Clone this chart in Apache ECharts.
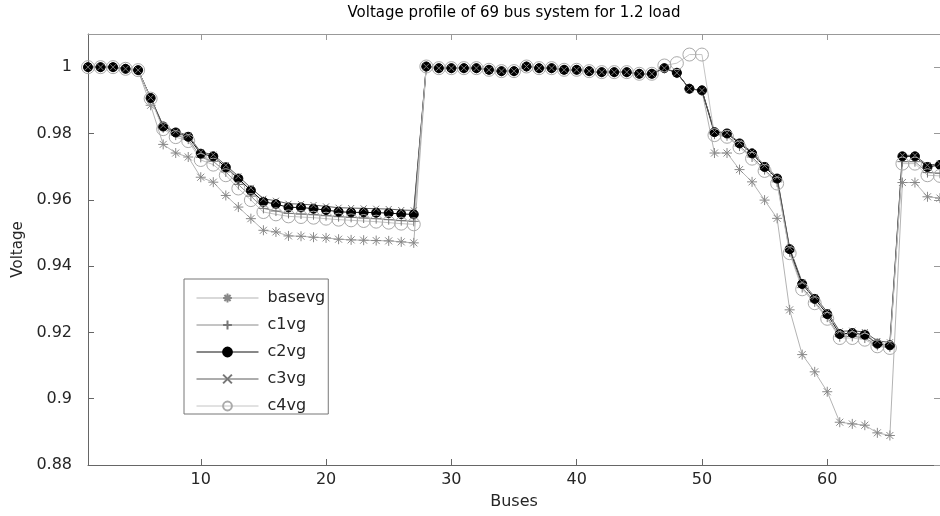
<!DOCTYPE html>
<html>
<head>
<meta charset="utf-8">
<title>Voltage profile</title>
<script src="https://cdn.jsdelivr.net/npm/echarts@6/dist/echarts.min.js"></script>
<style>
	html, body { margin: 0; padding: 0; background: #fff; }
	#chart { width: 940px; height: 516px; }
</style>
</head>
<body>
<div id="chart"></div>
<script>
/* bus numbers */
var buses = [1, 2, 3, 4, 5, 6, 7, 8, 9, 10, 11, 12, 13, 14, 15, 16, 17, 18, 19, 20,
	21, 22, 23, 24, 25, 26, 27, 28, 29, 30, 31, 32, 33, 34, 35, 36, 37, 38, 39, 40,
	41, 42, 43, 44, 45, 46, 47, 48, 49, 50, 51, 52, 53, 54, 55, 56, 57, 58, 59, 60,
	61, 62, 63, 64, 65, 66, 67, 68, 69];
var xTicks = [10, 20, 30, 40, 50, 60];

var basevg = [1.0000, 1.0000, 1.0000, 0.9995, 0.9990, 0.9885, 0.9767, 0.9741, 0.9729, 0.9668,
	0.9653, 0.9613, 0.9578, 0.9543, 0.9508, 0.9503, 0.9491, 0.9490, 0.9487, 0.9485,
	0.9481, 0.9479, 0.9478, 0.9477, 0.9476, 0.9473, 0.9470, 1.0001, 0.9996, 0.9996,
	0.9996, 0.9996, 0.9991, 0.9987, 0.9987, 1.0001, 0.9996, 0.9996, 0.9991, 0.9991,
	0.9987, 0.9984, 0.9984, 0.9984, 0.9979, 0.9979, 0.9996, 0.9982, 0.9934, 0.9929,
	0.9741, 0.9741, 0.9691, 0.9654, 0.9599, 0.9544, 0.9268, 0.9133, 0.9081, 0.9021,
	0.8929, 0.8924, 0.8920, 0.8897, 0.8889, 0.9652, 0.9652, 0.9609, 0.9605];
var c1vg = [1.0000, 1.0000, 1.0000, 0.9995, 0.9991, 0.9906, 0.9817, 0.9795, 0.9783, 0.9728,
	0.9716, 0.9684, 0.9646, 0.9611, 0.9574, 0.9566, 0.9559, 0.9557, 0.9555, 0.9552,
	0.9549, 0.9547, 0.9545, 0.9543, 0.9540, 0.9537, 0.9535, 1.0002, 0.9997, 0.9997,
	0.9997, 0.9997, 0.9992, 0.9988, 0.9988, 1.0002, 0.9997, 0.9997, 0.9992, 0.9992,
	0.9988, 0.9985, 0.9985, 0.9985, 0.9980, 0.9980, 0.9997, 0.9983, 0.9935, 0.9930,
	0.9798, 0.9793, 0.9762, 0.9729, 0.9691, 0.9654, 0.9443, 0.9335, 0.9292, 0.9246,
	0.9187, 0.9188, 0.9183, 0.9161, 0.9156, 0.9715, 0.9715, 0.9682, 0.9680];
var c2vg = [1.0000, 1.0000, 1.0000, 0.9995, 0.9991, 0.9907, 0.9821, 0.9803, 0.9790, 0.9739,
	0.9731, 0.9698, 0.9664, 0.9628, 0.9594, 0.9587, 0.9577, 0.9577, 0.9573, 0.9569,
	0.9564, 0.9562, 0.9562, 0.9561, 0.9560, 0.9557, 0.9556, 1.0002, 0.9997, 0.9997,
	0.9997, 0.9997, 0.9992, 0.9988, 0.9988, 1.0002, 0.9997, 0.9997, 0.9992, 0.9992,
	0.9988, 0.9985, 0.9985, 0.9985, 0.9980, 0.9980, 0.9997, 0.9983, 0.9935, 0.9930,
	0.9804, 0.9800, 0.9770, 0.9740, 0.9699, 0.9664, 0.9451, 0.9346, 0.9301, 0.9255,
	0.9195, 0.9198, 0.9193, 0.9166, 0.9161, 0.9731, 0.9731, 0.9699, 0.9705];
var c3vg = [1.0000, 1.0000, 1.0000, 0.9995, 0.9991, 0.9908, 0.9824, 0.9806, 0.9794, 0.9744,
	0.9736, 0.9704, 0.9671, 0.9636, 0.9603, 0.9597, 0.9588, 0.9587, 0.9584, 0.9580,
	0.9576, 0.9575, 0.9574, 0.9573, 0.9572, 0.9569, 0.9568, 1.0002, 0.9997, 0.9997,
	0.9997, 0.9997, 0.9992, 0.9988, 0.9988, 1.0002, 0.9997, 0.9997, 0.9992, 0.9992,
	0.9988, 0.9985, 0.9985, 0.9985, 0.9980, 0.9980, 0.9997, 0.9983, 0.9935, 0.9930,
	0.9806, 0.9802, 0.9773, 0.9744, 0.9703, 0.9668, 0.9455, 0.9351, 0.9307, 0.9262,
	0.9203, 0.9205, 0.9201, 0.9174, 0.9170, 0.9734, 0.9734, 0.9704, 0.9709];
var c4vg = [1.0000, 1.0000, 1.0000, 0.9995, 0.9991, 0.9905, 0.9813, 0.9789, 0.9777, 0.9720,
	0.9706, 0.9674, 0.9634, 0.9599, 0.9563, 0.9556, 0.9550, 0.9548, 0.9546, 0.9543,
	0.9540, 0.9538, 0.9536, 0.9534, 0.9531, 0.9528, 0.9526, 1.0002, 0.9997, 0.9997,
	0.9997, 0.9997, 0.9992, 0.9988, 0.9988, 1.0002, 0.9997, 0.9997, 0.9992, 0.9992,
	0.9988, 0.9985, 0.9985, 0.9985, 0.9980, 0.9980, 1.0005, 1.0012, 1.0038, 1.0038,
	0.9795, 0.9790, 0.9758, 0.9724, 0.9687, 0.9649, 0.9439, 0.9330, 0.9288, 0.9241,
	0.9183, 0.9183, 0.9178, 0.9158, 0.9153, 0.9709, 0.9709, 0.9674, 0.9672];

var FONT = 'DejaVu Sans';
var STAR = 'path://M5,0L5,10M0,5L10,5M1.5,1.5L8.5,8.5M1.5,8.5L8.5,1.5';
var PLUS = 'path://M5,0L5,10M0,5L10,5';
var CROSS = 'path://M0,0L10,10M0,10L10,0';

function pairs(ys) {
	var out = [];
	for (var i = 0; i < buses.length; i++) {
		out.push([buses[i], ys[i]]);
	}
	return out;
}

function lineSeries(name, ys, lineColor, symbol, size, fill, stroke) {
	return {
		name : name,
		type : 'line',
		data : pairs(ys),
		symbol : symbol,
		symbolSize : size,
		showAllSymbol : true,
		lineStyle : { color : lineColor, width : 1 },
		itemStyle : { color : fill, borderColor : stroke, borderWidth : 1 },
		emphasis : { disabled : true }
	};
}

var chart = echarts.init(document.getElementById('chart'));
chart.setOption({
	animation : false,
	backgroundColor : '#fff',
	textStyle : { fontFamily : FONT },
	grid : { left : 88, top : 34, width : 856, height : 431 },
	legend : {
		orient : 'vertical',
		left : 184,
		top : 279,
		padding : [11, 3, 0, 12],
		itemWidth : 62,
		itemHeight : 11,
		itemGap : 11,
		borderColor : '#777',
		borderWidth : 1,
		backgroundColor : '#fff',
		lineStyle : { width : 1 },
		textStyle : { fontSize : 16, color : '#262626', fontFamily : FONT, padding : [0, 0, 0, 4], lineHeight : 14 },
		data : [ 'basevg', 'c1vg', 'c2vg', 'c3vg', 'c4vg' ]
	},
	xAxis : [ {
		type : 'value',
		min : 1,
		max : 69,
		name : 'Buses',
		nameLocation : 'middle',
		nameGap : 29,
		nameTextStyle : { fontSize : 16, color : '#262626' },
		axisLine : { lineStyle : { color : '#666' } },
		axisTick : { inside : true, length : 6, customValues : xTicks, lineStyle : { color : '#666' } },
		axisLabel : { customValues : xTicks, fontSize : 16, color : '#262626', margin : 7 },
		splitLine : { show : false }
	}, {
		type : 'value',
		position : 'top',
		min : 1,
		max : 69,
		name : 'Voltage profile of 69 bus system for 1.2 load',
		nameLocation : 'middle',
		nameGap : 13,
		nameTextStyle : { fontSize : 15, color : '#000' },
		axisLine : { lineStyle : { color : '#999' } },
		axisTick : { inside : true, length : 6, customValues : xTicks, lineStyle : { color : '#999' } },
		axisLabel : { show : false },
		splitLine : { show : false }
	} ],
	yAxis : [ {
		type : 'value',
		min : 0.88,
		max : 1.01,
		interval : 0.02,
		name : 'Voltage',
		nameLocation : 'middle',
		nameGap : 62,
		nameTextStyle : { fontSize : 15, color : '#262626' },
		axisLine : { show : true, lineStyle : { color : '#666' } },
		axisTick : { inside : true, length : 6, lineStyle : { color : '#666' } },
		axisLabel : { fontSize : 16, color : '#262626', margin : 16, showMaxLabel : false },
		splitLine : { show : false }
	}, {
		type : 'value',
		position : 'right',
		min : 0.88,
		max : 1.01,
		interval : 0.02,
		axisLine : { show : true, lineStyle : { color : '#999' } },
		axisTick : { inside : true, length : 6, lineStyle : { color : '#999' } },
		axisLabel : { show : false },
		splitLine : { show : false }
	} ],
	series : [
		lineSeries('basevg', basevg, '#b3b3b3', STAR, 10, '#888', '#888'),
		lineSeries('c1vg', c1vg, '#8a8a8a', PLUS, 10, '#777', '#777'),
		lineSeries('c2vg', c2vg, '#111', 'circle', 9, '#000', '#000'),
		lineSeries('c3vg', c3vg, '#5a5a5a', CROSS, 6, '#777', '#777'),
		lineSeries('c4vg', c4vg, '#c4c4c4', 'circle', 13, 'rgba(255,255,255,0)', '#aaa')
	]
});
</script>
</body>
</html>
